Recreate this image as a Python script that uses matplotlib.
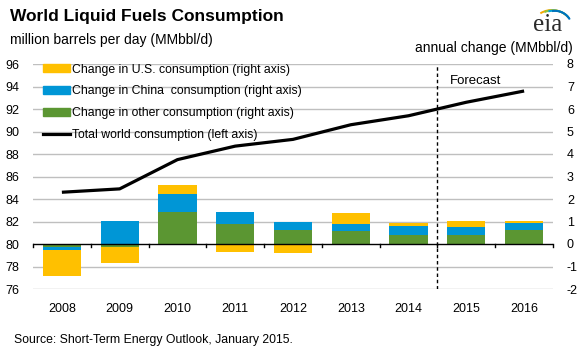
import numpy as np
import matplotlib.pyplot as plt
from matplotlib.patches import Arc, Patch
from matplotlib.lines import Line2D

years = ['2008', '2009', '2010', '2011', '2012', '2013', '2014', '2015', '2016']
# annual change, MMbbl/d (right axis)
us_change = [-1.17, -0.74, 0.40, -0.34, -0.41, 0.50, 0.13, 0.27, 0.09]
china_change = [-0.12, 1.04, 0.80, 0.53, 0.39, 0.32, 0.41, 0.36, 0.30]
other_change = [-0.15, -0.12, 1.44, 0.90, 0.61, 0.56, 0.38, 0.38, 0.62]
# total world consumption, MMbbl/d (left axis)
world_total = [84.6, 84.9, 87.5, 88.7, 89.3, 90.6, 91.4, 92.6, 93.6]

YELLOW = '#FFC000'
BLUE = '#0096D6'
GREEN = '#5B9632'

plt.rcParams['font.family'] = ['Liberation Sans', 'DejaVu Sans']
plt.rcParams['axes.unicode_minus'] = False

fig = plt.figure(figsize=(5.8, 3.62), dpi=100)
ax2 = fig.add_axes([33 / 580, 73 / 362, 520 / 580, 225 / 362])  # bars, right axis
ax = ax2.twinx()  # line, left axis
ax.yaxis.tick_left()
ax2.yaxis.tick_right()

x = np.arange(len(years))
w = 0.66

# stack positive and negative parts separately, other -> china -> us
pos = np.zeros(len(years))
neg = np.zeros(len(years))
for vals, col in [(other_change, GREEN), (china_change, BLUE), (us_change, YELLOW)]:
    v = np.array(vals)
    bottoms = np.where(v >= 0, pos, neg)
    ax2.bar(x, v, w, bottom=bottoms, color=col, zorder=3)
    pos = pos + np.where(v >= 0, v, 0)
    neg = neg + np.where(v < 0, v, 0)

ax.plot(x, world_total, color='black', lw=2.3, zorder=5, solid_capstyle='butt')

ax2.set_xlim(-0.5, len(years) - 0.5)
ax2.set_ylim(-2, 8)
ax.set_ylim(76, 96)
ax2.set_yticks(range(-2, 9))
ax.set_yticks(range(76, 97, 2))
ax2.set_xticks(x)
ax2.set_xticklabels(years)

for a in (ax, ax2):
    for s in a.spines.values():
        s.set_visible(False)
    a.tick_params(length=0, labelsize=9, colors='black')
ax.tick_params(axis='y', pad=10)
ax2.tick_params(axis='y', pad=10)
ax2.tick_params(axis='x', pad=10)

# grid lines (gray), zero line black with category ticks
for v in range(-2, 9):
    if v != 0:
        ax2.axhline(v, color='#BFBFBF', lw=1.0, zorder=1)
ax2.axhline(0, color='black', lw=1.0, zorder=4)
for b in np.arange(-0.5, len(years), 1.0):
    ax2.plot([b, b], [0, -0.13], color='black', lw=1.0, zorder=4, clip_on=False)

ax2.axvline(6.5, color='black', lw=1.0, ls=(0, (2.5, 2)), zorder=4)
ax2.text(6.72, 7.25, 'Forecast', fontsize=9.5, va='center', ha='left')

# legend
handles = [Patch(color=YELLOW), Patch(color=BLUE), Patch(color=GREEN),
           Line2D([], [], color='black', lw=2.3)]
labels = ['Change in U.S. consumption (right axis)',
          'Change in China  consumption (right axis)',
          'Change in other consumption (right axis)',
          'Total world consumption (left axis)']
leg = ax.legend(handles, labels, loc='upper left', bbox_to_anchor=(0.0, 1.045),
                frameon=False, fontsize=8.8, handlelength=2.2, handleheight=0.6,
                handletextpad=0.2, labelspacing=0.8, borderaxespad=0.4)
leg.set_zorder(10)

# titles
fig.text(10 / 580, 1 - 17 / 362, 'World Liquid Fuels Consumption', fontsize=12.5,
         fontweight='bold', va='center', ha='left')
fig.text(10 / 580, 1 - 40 / 362, 'million barrels per day (MMbbl/d)', fontsize=10,
         va='center', ha='left')
fig.text(573 / 580, 1 - 48 / 362, 'annual change (MMbbl/d)', fontsize=10,
         va='center', ha='right')
fig.text(14 / 580, 1 - 340 / 362, 'Source: Short-Term Energy Outlook, January 2015.',
         fontsize=8.8, va='center', ha='left')

# eia logo
fig.text(548 / 580, 1 - 25 / 362, 'eia', family='Liberation Serif', fontsize=18,
         va='center', ha='center', color='#2B2B2B')
for i, c in enumerate(['#F5A800', '#8DC63F', '#00A0DC', '#0072BC']):
    arc = Arc((552 + i, 362 - 30 + i * 1.2), 42 - i * 3, 40 - i * 3, angle=0,
              theta1=40 - i * 5, theta2=125 - i * 8, color=c, lw=1.4, transform=None)
    fig.add_artist(arc)

fig.savefig('out.png', dpi=100)
